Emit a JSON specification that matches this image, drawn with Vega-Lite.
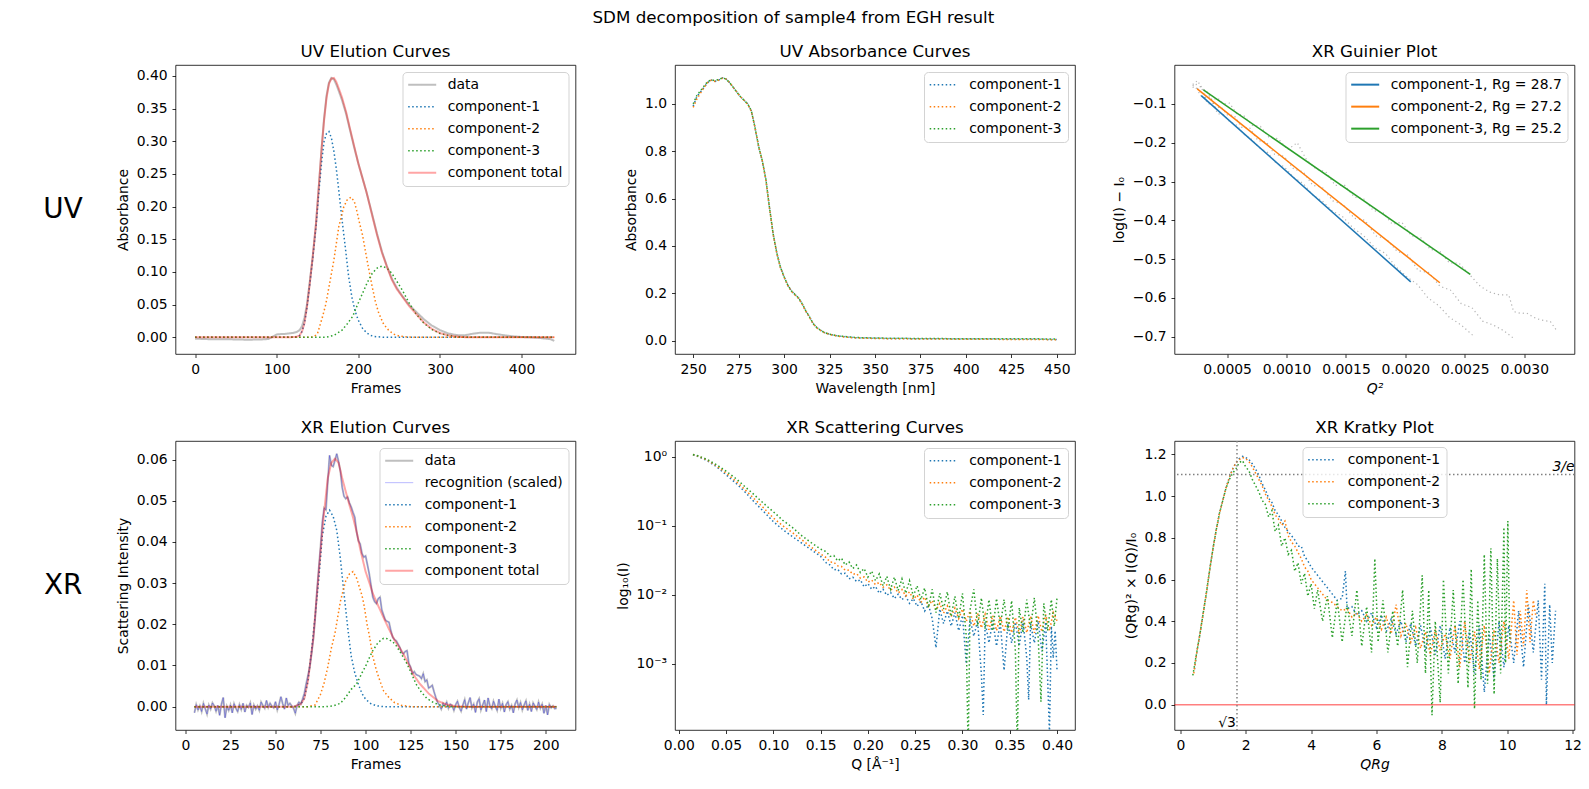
{
"$schema": "https://vega.github.io/schema/vega-lite/v6.json",
"background": "white",
"padding": {"left": 5, "top": 10, "right": 5, "bottom": 5},
"title": {"text": "SDM decomposition of sample4 from EGH result", "anchor": "middle", "fontSize": 16.7, "fontWeight": "normal", "offset": 17},
"bounds": "flush",
"columns": 4,
"spacing": {"row": 87, "column": 99.5},
"resolve": {"scale": {"color": "independent", "strokeDash": "independent", "opacity": "independent", "strokeWidth": "independent", "x": "independent", "y": "independent"}, "legend": {"color": "independent", "strokeDash": "independent", "opacity": "independent", "strokeWidth": "independent"}},
"config": {
  "font": "DejaVu Sans",
  "view": {"stroke": "black", "strokeWidth": 0.8},
  "axis": {"grid": false, "domain": false, "tickColor": "black", "tickSize": 3.5, "tickWidth": 0.8, "labelFontSize": 13.9, "labelColor": "black", "labelPadding": 4.9, "titleFontSize": 13.9, "titleFontWeight": "normal", "titleColor": "black", "titlePadding": 5.6, "labelFlush": false, "labelOverlap": false, "labelBound": false},
  "title": {"fontSize": 16.7, "fontWeight": "normal", "color": "black", "anchor": "middle"},
  "legend": {"padding": 5.7, "rowPadding": 7, "fillColor": "rgba(255,255,255,0.8)", "strokeColor": "#d3d3d3", "cornerRadius": 4, "labelFontSize": 13.9, "labelColor": "black", "labelLimit": 400, "offset": 7, "symbolOffset": 7.05, "labelOffset": 18.5}
},
"datasets": {
"uvel": [
{"s":"data","x":0,"y":-0.002},{"s":"data","x":10,"y":-0.0025},{"s":"data","x":20,"y":-0.003},{"s":"data","x":30,"y":-0.0028},{"s":"data","x":40,"y":-0.003},{"s":"data","x":50,"y":-0.0032},{"s":"data","x":60,"y":-0.0035},{"s":"data","x":70,"y":-0.0035},{"s":"data","x":80,"y":-0.0033},{"s":"data","x":90,"y":-0.0025},{"s":"data","x":95,"y":0.001},{"s":"data","x":100,"y":0.0045},{"s":"data","x":105,"y":0.005},{"s":"data","x":110,"y":0.0052},{"s":"data","x":115,"y":0.006},{"s":"data","x":120,"y":0.0068},{"s":"data","x":125,"y":0.0085},{"s":"data","x":128,"y":0.011},{"s":"data","x":131,"y":0.017},{"s":"data","x":134,"y":0.03},{"s":"data","x":137,"y":0.05},{"s":"data","x":140,"y":0.08},{"s":"data","x":144,"y":0.122},{"s":"data","x":148,"y":0.172},{"s":"data","x":152,"y":0.238},{"s":"data","x":155,"y":0.29},{"s":"data","x":158,"y":0.335},{"s":"data","x":161,"y":0.37},{"s":"data","x":164,"y":0.39},{"s":"data","x":167,"y":0.397},{"s":"data","x":170,"y":0.395},{"s":"data","x":173,"y":0.387},{"s":"data","x":176,"y":0.377},{"s":"data","x":180,"y":0.363},{"s":"data","x":185,"y":0.342},{"s":"data","x":190,"y":0.316},{"s":"data","x":195,"y":0.29},{"s":"data","x":200,"y":0.266},{"s":"data","x":205,"y":0.244},{"s":"data","x":210,"y":0.222},{"s":"data","x":217,"y":0.188},{"s":"data","x":223,"y":0.158},{"s":"data","x":229,"y":0.131},{"s":"data","x":235,"y":0.109},{"s":"data","x":241,"y":0.09},{"s":"data","x":247,"y":0.076},{"s":"data","x":254,"y":0.063},{"s":"data","x":262,"y":0.05},{"s":"data","x":270,"y":0.04},{"s":"data","x":280,"y":0.028},{"s":"data","x":290,"y":0.018},{"s":"data","x":300,"y":0.011},{"s":"data","x":310,"y":0.006},{"s":"data","x":320,"y":0.0035},{"s":"data","x":330,"y":0.003},{"s":"data","x":340,"y":0.0055},{"s":"data","x":350,"y":0.0072},{"s":"data","x":360,"y":0.007},{"s":"data","x":370,"y":0.0048},{"s":"data","x":380,"y":0.003},{"s":"data","x":390,"y":0.0015},{"s":"data","x":400,"y":0.0005},{"s":"data","x":410,"y":0},{"s":"data","x":420,"y":-0.0008},{"s":"data","x":430,"y":-0.002},{"s":"data","x":436,"y":-0.003},{"s":"data","x":440,"y":-0.0055},
{"s":"component-1","x":0,"y":0},{"s":"component-1","x":110,"y":0},{"s":"component-1","x":120,"y":0.0004},{"s":"component-1","x":125,"y":0.001},{"s":"component-1","x":128,"y":0.003},{"s":"component-1","x":131,"y":0.009},{"s":"component-1","x":134,"y":0.022},{"s":"component-1","x":137,"y":0.045},{"s":"component-1","x":140,"y":0.076},{"s":"component-1","x":144,"y":0.12},{"s":"component-1","x":148,"y":0.168},{"s":"component-1","x":152,"y":0.228},{"s":"component-1","x":155,"y":0.268},{"s":"component-1","x":158,"y":0.3},{"s":"component-1","x":161,"y":0.312},{"s":"component-1","x":164,"y":0.315},{"s":"component-1","x":167,"y":0.305},{"s":"component-1","x":170,"y":0.285},{"s":"component-1","x":173,"y":0.258},{"s":"component-1","x":176,"y":0.225},{"s":"component-1","x":180,"y":0.18},{"s":"component-1","x":184,"y":0.138},{"s":"component-1","x":188,"y":0.094},{"s":"component-1","x":192,"y":0.062},{"s":"component-1","x":196,"y":0.04},{"s":"component-1","x":200,"y":0.026},{"s":"component-1","x":205,"y":0.014},{"s":"component-1","x":210,"y":0.007},{"s":"component-1","x":215,"y":0.003},{"s":"component-1","x":220,"y":0.0012},{"s":"component-1","x":230,"y":0.0002},{"s":"component-1","x":240,"y":0},{"s":"component-1","x":440,"y":0},
{"s":"component-2","x":0,"y":0},{"s":"component-2","x":140,"y":0},{"s":"component-2","x":146,"y":0.001},{"s":"component-2","x":150,"y":0.006},{"s":"component-2","x":156,"y":0.031},{"s":"component-2","x":160,"y":0.05},{"s":"component-2","x":164,"y":0.077},{"s":"component-2","x":170,"y":0.118},{"s":"component-2","x":176,"y":0.169},{"s":"component-2","x":182,"y":0.199},{"s":"component-2","x":186,"y":0.21},{"s":"component-2","x":191,"y":0.2146},{"s":"component-2","x":195,"y":0.208},{"s":"component-2","x":198,"y":0.194},{"s":"component-2","x":202,"y":0.172},{"s":"component-2","x":205,"y":0.157},{"s":"component-2","x":211,"y":0.116},{"s":"component-2","x":217,"y":0.077},{"s":"component-2","x":221,"y":0.054},{"s":"component-2","x":225,"y":0.037},{"s":"component-2","x":231,"y":0.02},{"s":"component-2","x":237,"y":0.011},{"s":"component-2","x":243,"y":0.005},{"s":"component-2","x":250,"y":0.002},{"s":"component-2","x":260,"y":0.0005},{"s":"component-2","x":270,"y":0},{"s":"component-2","x":440,"y":0},
{"s":"component-3","x":0,"y":0},{"s":"component-3","x":160,"y":0},{"s":"component-3","x":170,"y":0.003},{"s":"component-3","x":180,"y":0.011},{"s":"component-3","x":186,"y":0.02},{"s":"component-3","x":193,"y":0.032},{"s":"component-3","x":199,"y":0.05},{"s":"component-3","x":205,"y":0.067},{"s":"component-3","x":211,"y":0.084},{"s":"component-3","x":217,"y":0.098},{"s":"component-3","x":223,"y":0.106},{"s":"component-3","x":229,"y":0.109},{"s":"component-3","x":235,"y":0.106},{"s":"component-3","x":241,"y":0.098},{"s":"component-3","x":247,"y":0.086},{"s":"component-3","x":254,"y":0.072},{"s":"component-3","x":262,"y":0.053},{"s":"component-3","x":270,"y":0.037},{"s":"component-3","x":280,"y":0.022},{"s":"component-3","x":290,"y":0.012},{"s":"component-3","x":300,"y":0.006},{"s":"component-3","x":310,"y":0.003},{"s":"component-3","x":320,"y":0.001},{"s":"component-3","x":330,"y":0.0003},{"s":"component-3","x":340,"y":0},{"s":"component-3","x":440,"y":0},
{"s":"component total","x":0,"y":0},{"s":"component total","x":110,"y":0},{"s":"component total","x":120,"y":0.0004},{"s":"component total","x":125,"y":0.001},{"s":"component total","x":128,"y":0.003},{"s":"component total","x":131,"y":0.009},{"s":"component total","x":134,"y":0.022},{"s":"component total","x":137,"y":0.046},{"s":"component total","x":140,"y":0.077},{"s":"component total","x":144,"y":0.122},{"s":"component total","x":148,"y":0.172},{"s":"component total","x":152,"y":0.238},{"s":"component total","x":155,"y":0.288},{"s":"component total","x":158,"y":0.332},{"s":"component total","x":161,"y":0.366},{"s":"component total","x":164,"y":0.388},{"s":"component total","x":167,"y":0.396},{"s":"component total","x":170,"y":0.397},{"s":"component total","x":173,"y":0.391},{"s":"component total","x":176,"y":0.381},{"s":"component total","x":180,"y":0.367},{"s":"component total","x":185,"y":0.345},{"s":"component total","x":190,"y":0.318},{"s":"component total","x":195,"y":0.292},{"s":"component total","x":200,"y":0.266},{"s":"component total","x":205,"y":0.244},{"s":"component total","x":210,"y":0.222},{"s":"component total","x":217,"y":0.186},{"s":"component total","x":223,"y":0.156},{"s":"component total","x":229,"y":0.129},{"s":"component total","x":235,"y":0.108},{"s":"component total","x":241,"y":0.088},{"s":"component total","x":247,"y":0.074},{"s":"component total","x":254,"y":0.062},{"s":"component total","x":262,"y":0.048},{"s":"component total","x":270,"y":0.037},{"s":"component total","x":280,"y":0.023},{"s":"component total","x":290,"y":0.013},{"s":"component total","x":300,"y":0.0065},{"s":"component total","x":310,"y":0.003},{"s":"component total","x":320,"y":0.0012},{"s":"component total","x":330,"y":0.0003},{"s":"component total","x":340,"y":0},{"s":"component total","x":440,"y":0}
],
"uvabs": [
{"s":"component-1","x":250,"y":0.99},{"s":"component-1","x":252,"y":1.03},{"s":"component-1","x":254,"y":1.05},{"s":"component-1","x":256,"y":1.07},{"s":"component-1","x":258,"y":1.09},{"s":"component-1","x":260,"y":1.1},{"s":"component-1","x":262,"y":1.095},{"s":"component-1","x":264,"y":1.1},{"s":"component-1","x":266,"y":1.11},{"s":"component-1","x":268,"y":1.105},{"s":"component-1","x":270,"y":1.09},{"s":"component-1","x":272,"y":1.07},{"s":"component-1","x":274,"y":1.05},{"s":"component-1","x":276,"y":1.03},{"s":"component-1","x":278,"y":1.015},{"s":"component-1","x":280,"y":1.0},{"s":"component-1","x":282,"y":0.97},{"s":"component-1","x":284,"y":0.9},{"s":"component-1","x":286,"y":0.82},{"s":"component-1","x":288,"y":0.76},{"s":"component-1","x":290,"y":0.68},{"s":"component-1","x":292,"y":0.56},{"s":"component-1","x":294,"y":0.45},{"s":"component-1","x":296,"y":0.37},{"s":"component-1","x":298,"y":0.31},{"s":"component-1","x":300,"y":0.27},{"s":"component-1","x":302,"y":0.235},{"s":"component-1","x":304,"y":0.21},{"s":"component-1","x":306,"y":0.195},{"s":"component-1","x":308,"y":0.18},{"s":"component-1","x":310,"y":0.155},{"s":"component-1","x":312,"y":0.125},{"s":"component-1","x":314,"y":0.1},{"s":"component-1","x":316,"y":0.072},{"s":"component-1","x":318,"y":0.055},{"s":"component-1","x":320,"y":0.044},{"s":"component-1","x":322,"y":0.035},{"s":"component-1","x":325,"y":0.027},{"s":"component-1","x":330,"y":0.019},{"s":"component-1","x":335,"y":0.015},{"s":"component-1","x":340,"y":0.012},{"s":"component-1","x":350,"y":0.01},{"s":"component-1","x":360,"y":0.009},{"s":"component-1","x":375,"y":0.008},{"s":"component-1","x":400,"y":0.007},{"s":"component-1","x":425,"y":0.006},{"s":"component-1","x":450,"y":0.005},
{"s":"component-2","x":250,"y":0.985},{"s":"component-2","x":252,"y":1.02},{"s":"component-2","x":254,"y":1.045},{"s":"component-2","x":256,"y":1.07},{"s":"component-2","x":258,"y":1.09},{"s":"component-2","x":260,"y":1.1},{"s":"component-2","x":262,"y":1.095},{"s":"component-2","x":264,"y":1.1},{"s":"component-2","x":266,"y":1.108},{"s":"component-2","x":268,"y":1.105},{"s":"component-2","x":270,"y":1.09},{"s":"component-2","x":272,"y":1.07},{"s":"component-2","x":274,"y":1.05},{"s":"component-2","x":276,"y":1.03},{"s":"component-2","x":278,"y":1.015},{"s":"component-2","x":280,"y":0.998},{"s":"component-2","x":282,"y":0.968},{"s":"component-2","x":284,"y":0.9},{"s":"component-2","x":286,"y":0.82},{"s":"component-2","x":288,"y":0.76},{"s":"component-2","x":290,"y":0.678},{"s":"component-2","x":292,"y":0.558},{"s":"component-2","x":294,"y":0.448},{"s":"component-2","x":296,"y":0.368},{"s":"component-2","x":298,"y":0.308},{"s":"component-2","x":300,"y":0.268},{"s":"component-2","x":302,"y":0.233},{"s":"component-2","x":304,"y":0.208},{"s":"component-2","x":306,"y":0.193},{"s":"component-2","x":308,"y":0.178},{"s":"component-2","x":310,"y":0.153},{"s":"component-2","x":312,"y":0.123},{"s":"component-2","x":314,"y":0.098},{"s":"component-2","x":316,"y":0.071},{"s":"component-2","x":318,"y":0.054},{"s":"component-2","x":320,"y":0.043},{"s":"component-2","x":322,"y":0.034},{"s":"component-2","x":325,"y":0.026},{"s":"component-2","x":330,"y":0.018},{"s":"component-2","x":335,"y":0.014},{"s":"component-2","x":340,"y":0.011},{"s":"component-2","x":350,"y":0.009},{"s":"component-2","x":360,"y":0.008},{"s":"component-2","x":375,"y":0.007},{"s":"component-2","x":400,"y":0.006},{"s":"component-2","x":425,"y":0.005},{"s":"component-2","x":450,"y":0.004},
{"s":"component-3","x":250,"y":1.0},{"s":"component-3","x":252,"y":1.035},{"s":"component-3","x":254,"y":1.055},{"s":"component-3","x":256,"y":1.075},{"s":"component-3","x":258,"y":1.095},{"s":"component-3","x":260,"y":1.1},{"s":"component-3","x":262,"y":1.1},{"s":"component-3","x":264,"y":1.102},{"s":"component-3","x":266,"y":1.11},{"s":"component-3","x":268,"y":1.105},{"s":"component-3","x":270,"y":1.09},{"s":"component-3","x":272,"y":1.07},{"s":"component-3","x":274,"y":1.05},{"s":"component-3","x":276,"y":1.03},{"s":"component-3","x":278,"y":1.015},{"s":"component-3","x":280,"y":1.0},{"s":"component-3","x":282,"y":0.97},{"s":"component-3","x":284,"y":0.9},{"s":"component-3","x":286,"y":0.82},{"s":"component-3","x":288,"y":0.76},{"s":"component-3","x":290,"y":0.68},{"s":"component-3","x":292,"y":0.56},{"s":"component-3","x":294,"y":0.45},{"s":"component-3","x":296,"y":0.37},{"s":"component-3","x":298,"y":0.31},{"s":"component-3","x":300,"y":0.27},{"s":"component-3","x":302,"y":0.235},{"s":"component-3","x":304,"y":0.21},{"s":"component-3","x":306,"y":0.195},{"s":"component-3","x":308,"y":0.18},{"s":"component-3","x":310,"y":0.155},{"s":"component-3","x":312,"y":0.125},{"s":"component-3","x":314,"y":0.1},{"s":"component-3","x":316,"y":0.072},{"s":"component-3","x":318,"y":0.055},{"s":"component-3","x":320,"y":0.044},{"s":"component-3","x":322,"y":0.035},{"s":"component-3","x":325,"y":0.027},{"s":"component-3","x":330,"y":0.02},{"s":"component-3","x":335,"y":0.016},{"s":"component-3","x":340,"y":0.013},{"s":"component-3","x":350,"y":0.011},{"s":"component-3","x":360,"y":0.01},{"s":"component-3","x":375,"y":0.009},{"s":"component-3","x":400,"y":0.008},{"s":"component-3","x":425,"y":0.008},{"s":"component-3","x":450,"y":0.007}
],
"guinpts": [
{"s":"a","x":0.00021,"y":-0.058},{"s":"a","x":0.00024,"y":-0.05},{"s":"a","x":0.00027,"y":-0.078},{"s":"a","x":0.0003,"y":-0.08},{"s":"a","x":0.00034,"y":-0.1},{"s":"a","x":0.00038,"y":-0.098},{"s":"a","x":0.00042,"y":-0.125},{"s":"a","x":0.00047,"y":-0.128},{"s":"a","x":0.00052,"y":-0.145},{"s":"a","x":0.00058,"y":-0.155},{"s":"a","x":0.00064,"y":-0.178},{"s":"a","x":0.0007,"y":-0.19},{"s":"a","x":0.00077,"y":-0.213},{"s":"a","x":0.00084,"y":-0.225},{"s":"a","x":0.00091,"y":-0.252},{"s":"a","x":0.00098,"y":-0.262},{"s":"a","x":0.00106,"y":-0.29},{"s":"a","x":0.00114,"y":-0.305},{"s":"a","x":0.00122,"y":-0.335},{"s":"a","x":0.0013,"y":-0.35},{"s":"a","x":0.00138,"y":-0.375},{"s":"a","x":0.00147,"y":-0.39},{"s":"a","x":0.00156,"y":-0.42},{"s":"a","x":0.00165,"y":-0.44},{"s":"a","x":0.00174,"y":-0.47},{"s":"a","x":0.00183,"y":-0.485},{"s":"a","x":0.00192,"y":-0.52},{"s":"a","x":0.00201,"y":-0.545},{"s":"a","x":0.0021,"y":-0.565},{"s":"a","x":0.00219,"y":-0.6},{"s":"a","x":0.00228,"y":-0.62},{"s":"a","x":0.00237,"y":-0.65},{"s":"a","x":0.00247,"y":-0.67},{"s":"a","x":0.00258,"y":-0.7},
{"s":"b","x":0.00021,"y":-0.052},{"s":"b","x":0.00024,"y":-0.06},{"s":"b","x":0.00028,"y":-0.055},{"s":"b","x":0.00032,"y":-0.085},{"s":"b","x":0.00036,"y":-0.082},{"s":"b","x":0.0004,"y":-0.11},{"s":"b","x":0.00045,"y":-0.108},{"s":"b","x":0.0005,"y":-0.128},{"s":"b","x":0.00056,"y":-0.13},{"s":"b","x":0.00062,"y":-0.16},{"s":"b","x":0.00069,"y":-0.162},{"s":"b","x":0.00076,"y":-0.195},{"s":"b","x":0.00083,"y":-0.198},{"s":"b","x":0.0009,"y":-0.23},{"s":"b","x":0.00098,"y":-0.235},{"s":"b","x":0.00106,"y":-0.268},{"s":"b","x":0.00114,"y":-0.275},{"s":"b","x":0.00122,"y":-0.31},{"s":"b","x":0.0013,"y":-0.315},{"s":"b","x":0.00139,"y":-0.35},{"s":"b","x":0.00148,"y":-0.36},{"s":"b","x":0.00157,"y":-0.395},{"s":"b","x":0.00166,"y":-0.4},{"s":"b","x":0.00175,"y":-0.44},{"s":"b","x":0.00184,"y":-0.448},{"s":"b","x":0.00193,"y":-0.48},{"s":"b","x":0.00202,"y":-0.49},{"s":"b","x":0.00211,"y":-0.53},{"s":"b","x":0.0022,"y":-0.535},{"s":"b","x":0.00229,"y":-0.57},{"s":"b","x":0.00238,"y":-0.58},{"s":"b","x":0.00247,"y":-0.615},{"s":"b","x":0.00256,"y":-0.625},{"s":"b","x":0.00265,"y":-0.66},{"s":"b","x":0.00274,"y":-0.67},{"s":"b","x":0.00283,"y":-0.685},{"s":"b","x":0.00291,"y":-0.704},
{"s":"c","x":0.00021,"y":-0.05},{"s":"c","x":0.00025,"y":-0.04},{"s":"c","x":0.00029,"y":-0.06},{"s":"c","x":0.00033,"y":-0.068},{"s":"c","x":0.00037,"y":-0.09},{"s":"c","x":0.00042,"y":-0.085},{"s":"c","x":0.00047,"y":-0.1},{"s":"c","x":0.00052,"y":-0.098},{"s":"c","x":0.00058,"y":-0.125},{"s":"c","x":0.00064,"y":-0.13},{"s":"c","x":0.00071,"y":-0.155},{"s":"c","x":0.00078,"y":-0.158},{"s":"c","x":0.00085,"y":-0.185},{"s":"c","x":0.00093,"y":-0.19},{"s":"c","x":0.00101,"y":-0.218},{"s":"c","x":0.00109,"y":-0.2},{"s":"c","x":0.00117,"y":-0.245},{"s":"c","x":0.00125,"y":-0.268},{"s":"c","x":0.00133,"y":-0.275},{"s":"c","x":0.00141,"y":-0.31},{"s":"c","x":0.00149,"y":-0.31},{"s":"c","x":0.00157,"y":-0.34},{"s":"c","x":0.00165,"y":-0.345},{"s":"c","x":0.00173,"y":-0.375},{"s":"c","x":0.00181,"y":-0.38},{"s":"c","x":0.00189,"y":-0.41},{"s":"c","x":0.00197,"y":-0.405},{"s":"c","x":0.00205,"y":-0.44},{"s":"c","x":0.00213,"y":-0.445},{"s":"c","x":0.00221,"y":-0.475},{"s":"c","x":0.00229,"y":-0.48},{"s":"c","x":0.00237,"y":-0.51},{"s":"c","x":0.00245,"y":-0.51},{"s":"c","x":0.00254,"y":-0.54},{"s":"c","x":0.00263,"y":-0.57},{"s":"c","x":0.00271,"y":-0.585},{"s":"c","x":0.00279,"y":-0.592},{"s":"c","x":0.00287,"y":-0.592},{"s":"c","x":0.00291,"y":-0.635},{"s":"c","x":0.00297,"y":-0.64},{"s":"c","x":0.00302,"y":-0.639},{"s":"c","x":0.00308,"y":-0.65},{"s":"c","x":0.00314,"y":-0.657},{"s":"c","x":0.00322,"y":-0.661},{"s":"c","x":0.00327,"y":-0.683}
],
"guinlines": [
{"s":"component-1, Rg = 28.7","x":0.000282,"y":-0.0786},{"s":"component-1, Rg = 28.7","x":0.002045,"y":-0.5586},
{"s":"component-2, Rg = 27.2","x":0.000248,"y":-0.0614},{"s":"component-2, Rg = 27.2","x":0.00229,"y":-0.561},
{"s":"component-3, Rg = 25.2","x":0.0003,"y":-0.064},{"s":"component-3, Rg = 25.2","x":0.002546,"y":-0.5395}
],
"xrnoisy": [
{"x":5,"y":-0.0015,"s":["data","recognition (scaled)"]},{"x":6,"y":0.0005,"s":["data","recognition (scaled)"]},{"x":7,"y":-0.0008,"s":["data","recognition (scaled)"]},{"x":8,"y":0.0002,"s":["data","recognition (scaled)"]},{"x":9,"y":-0.0012,"s":["data","recognition (scaled)"]},{"x":10,"y":0.0008,"s":["data","recognition (scaled)"]},{"x":11,"y":-0.0005,"s":["data","recognition (scaled)"]},{"x":12,"y":-0.0018,"s":["data","recognition (scaled)"]},{"x":13,"y":0.0004,"s":["data","recognition (scaled)"]},{"x":14,"y":-0.0006,"s":["data","recognition (scaled)"]},{"x":15,"y":0.0009,"s":["data","recognition (scaled)"]},{"x":16,"y":0.0002,"s":["data","recognition (scaled)"]},{"x":17,"y":-0.0011,"s":["data","recognition (scaled)"]},{"x":18,"y":0.0003,"s":["data","recognition (scaled)"]},{"x":19,"y":-0.0021,"s":["data","recognition (scaled)"]},{"x":20,"y":0.0006,"s":["data","recognition (scaled)"]},{"x":21,"y":0.0022,"s":["data","recognition (scaled)"]},{"x":22,"y":-0.0027,"s":["data","recognition (scaled)"]},{"x":23,"y":0.0001,"s":["data","recognition (scaled)"]},{"x":24,"y":-0.0009,"s":["data","recognition (scaled)"]},{"x":25,"y":0.0004,"s":["data","recognition (scaled)"]},{"x":26,"y":-0.0015,"s":["data","recognition (scaled)"]},{"x":27,"y":0.0007,"s":["data","recognition (scaled)"]},{"x":28,"y":-0.0004,"s":["data","recognition (scaled)"]},{"x":29,"y":-0.0012,"s":["data","recognition (scaled)"]},{"x":30,"y":0.0005,"s":["data","recognition (scaled)"]},{"x":31,"y":-0.0007,"s":["data","recognition (scaled)"]},{"x":32,"y":0.0008,"s":["data","recognition (scaled)"]},{"x":33,"y":-0.0013,"s":["data","recognition (scaled)"]},{"x":34,"y":0.0003,"s":["data","recognition (scaled)"]},{"x":35,"y":-0.0002,"s":["data","recognition (scaled)"]},{"x":36,"y":0.0009,"s":["data","recognition (scaled)"]},{"x":37,"y":-0.0019,"s":["data","recognition (scaled)"]},{"x":38,"y":0.0004,"s":["data","recognition (scaled)"]},{"x":39,"y":-0.0006,"s":["data","recognition (scaled)"]},{"x":40,"y":0.0002,"s":["data","recognition (scaled)"]},{"x":41,"y":-0.0009,"s":["data","recognition (scaled)"]},{"x":42,"y":0.0011,"s":["data","recognition (scaled)"]},{"x":43,"y":0.0003,"s":["data","recognition (scaled)"]},{"x":44,"y":-0.0004,"s":["data","recognition (scaled)"]},{"x":45,"y":0.0015,"s":["data","recognition (scaled)"]},{"x":46,"y":-0.0002,"s":["data","recognition (scaled)"]},{"x":47,"y":0.0008,"s":["data","recognition (scaled)"]},{"x":48,"y":0.0001,"s":["data","recognition (scaled)"]},{"x":49,"y":-0.0003,"s":["data","recognition (scaled)"]},{"x":50,"y":0.0012,"s":["data","recognition (scaled)"]},{"x":51,"y":-0.0008,"s":["data","recognition (scaled)"]},{"x":52,"y":0.0006,"s":["data","recognition (scaled)"]},{"x":53,"y":0.0024,"s":["data","recognition (scaled)"]},{"x":54,"y":0.0007,"s":["data","recognition (scaled)"]},{"x":55,"y":-0.0006,"s":["data","recognition (scaled)"]},{"x":56,"y":0.0021,"s":["data","recognition (scaled)"]},{"x":57,"y":0.0003,"s":["data","recognition (scaled)"]},{"x":58,"y":0.0008,"s":["data","recognition (scaled)"]},{"x":59,"y":0.0002,"s":["data","recognition (scaled)"]},{"x":60,"y":-0.0004,"s":["data","recognition (scaled)"]},{"x":61,"y":-0.0016,"s":["data","recognition (scaled)"]},{"x":62,"y":0.0003,"s":["data","recognition (scaled)"]},{"x":63,"y":0.0011,"s":["data","recognition (scaled)"]},{"x":64,"y":0.0006,"s":["data","recognition (scaled)"]},
{"x":65,"y":0.0018,"s":["data","recognition (scaled)"]},{"x":66,"y":0.0032,"s":["data","recognition (scaled)"]},{"x":67,"y":0.0055,"s":["data","recognition (scaled)"]},{"x":68,"y":0.0075,"s":["data","recognition (scaled)"]},{"x":69,"y":0.0096,"s":["data","recognition (scaled)"]},{"x":70,"y":0.0128,"s":["data","recognition (scaled)"]},{"x":71,"y":0.0165,"s":["data","recognition (scaled)"]},{"x":72,"y":0.0215,"s":["data","recognition (scaled)"]},{"x":73,"y":0.028,"s":["data","recognition (scaled)"]},{"x":74,"y":0.0335,"s":["data","recognition (scaled)"]},{"x":75,"y":0.0388,"s":["data","recognition (scaled)"]},{"x":76,"y":0.0448,"s":["data","recognition (scaled)"]},{"x":77,"y":0.0482,"s":["data","recognition (scaled)"]},{"x":78,"y":0.0478,"s":["data","recognition (scaled)"]},{"x":79,"y":0.0545,"s":["data","recognition (scaled)"]},{"x":80,"y":0.061,"s":["data","recognition (scaled)"]},{"x":81,"y":0.0586,"s":["data","recognition (scaled)"]},{"x":82,"y":0.0583,"s":["data","recognition (scaled)"]},{"x":83,"y":0.0598,"s":["data","recognition (scaled)"]},{"x":84,"y":0.0614,"s":["data","recognition (scaled)"]},{"x":85,"y":0.0595,"s":["data","recognition (scaled)"]},{"x":86,"y":0.0572,"s":["data","recognition (scaled)"]},{"x":87,"y":0.0533,"s":["data","recognition (scaled)"]},{"x":88,"y":0.0511,"s":["data","recognition (scaled)"]},{"x":89,"y":0.0505,"s":["data","recognition (scaled)"]},{"x":90,"y":0.0509,"s":["data","recognition (scaled)"]},{"x":91,"y":0.0495,"s":["data","recognition (scaled)"]},{"x":92,"y":0.0485,"s":["data","recognition (scaled)"]},{"x":93,"y":0.0472,"s":["data","recognition (scaled)"]},{"x":94,"y":0.046,"s":["data","recognition (scaled)"]},{"x":95,"y":0.0425,"s":["data","recognition (scaled)"]},{"x":96,"y":0.0403,"s":["data","recognition (scaled)"]},{"x":97,"y":0.0395,"s":["data","recognition (scaled)"]},{"x":98,"y":0.0372,"s":["data","recognition (scaled)"]},{"x":99,"y":0.0363,"s":["data","recognition (scaled)"]},{"x":100,"y":0.0366,"s":["data","recognition (scaled)"]},{"x":101,"y":0.0345,"s":["data","recognition (scaled)"]},{"x":102,"y":0.0323,"s":["data","recognition (scaled)"]},{"x":103,"y":0.0295,"s":["data","recognition (scaled)"]},{"x":104,"y":0.0266,"s":["data","recognition (scaled)"]},{"x":105,"y":0.0255,"s":["data","recognition (scaled)"]},{"x":106,"y":0.025,"s":["data","recognition (scaled)"]},{"x":107,"y":0.0262,"s":["data","recognition (scaled)"]},{"x":108,"y":0.0266,"s":["data","recognition (scaled)"]},{"x":109,"y":0.0235,"s":["data","recognition (scaled)"]},{"x":110,"y":0.0222,"s":["data","recognition (scaled)"]},{"x":111,"y":0.021,"s":["data","recognition (scaled)"]},{"x":112,"y":0.0207,"s":["data","recognition (scaled)"]},{"x":113,"y":0.0205,"s":["data","recognition (scaled)"]},{"x":114,"y":0.0185,"s":["data","recognition (scaled)"]},{"x":115,"y":0.0169,"s":["data","recognition (scaled)"]},{"x":116,"y":0.0163,"s":["data","recognition (scaled)"]},{"x":117,"y":0.016,"s":["data","recognition (scaled)"]},{"x":118,"y":0.0152,"s":["data","recognition (scaled)"]},{"x":119,"y":0.0144,"s":["data","recognition (scaled)"]},{"x":120,"y":0.0132,"s":["data","recognition (scaled)"]},{"x":121,"y":0.0128,"s":["data","recognition (scaled)"]},{"x":122,"y":0.0134,"s":["data","recognition (scaled)"]},{"x":123,"y":0.0136,"s":["data","recognition (scaled)"]},{"x":124,"y":0.0105,"s":["data","recognition (scaled)"]},{"x":125,"y":0.0096,"s":["data","recognition (scaled)"]},{"x":126,"y":0.008,"s":["data","recognition (scaled)"]},{"x":127,"y":0.0085,"s":["data","recognition (scaled)"]},{"x":128,"y":0.0078,"s":["data","recognition (scaled)"]},{"x":129,"y":0.0076,"s":["data","recognition (scaled)"]},
{"x":130,"y":0.0074,"s":["data","recognition (scaled)"]},{"x":131,"y":0.0068,"s":["data","recognition (scaled)"]},{"x":132,"y":0.008,"s":["data","recognition (scaled)"]},{"x":133,"y":0.0061,"s":["data","recognition (scaled)"]},{"x":134,"y":0.0065,"s":["data","recognition (scaled)"]},{"x":135,"y":0.0045,"s":["data","recognition (scaled)"]},{"x":136,"y":0.0048,"s":["data","recognition (scaled)"]},{"x":137,"y":0.0052,"s":["data","recognition (scaled)"]},{"x":138,"y":0.0036,"s":["data","recognition (scaled)"]},{"x":139,"y":0.0022,"s":["data","recognition (scaled)"]},{"x":140,"y":0.001,"s":["data","recognition (scaled)"]},{"x":141,"y":0.0003,"s":["data","recognition (scaled)"]},{"x":142,"y":-0.0006,"s":["data","recognition (scaled)"]},{"x":143,"y":0.0008,"s":["data","recognition (scaled)"]},{"x":144,"y":0.0002,"s":["data","recognition (scaled)"]},{"x":145,"y":0.0011,"s":["data","recognition (scaled)"]},{"x":146,"y":-0.0004,"s":["data","recognition (scaled)"]},{"x":147,"y":0.0006,"s":["data","recognition (scaled)"]},{"x":148,"y":0.0003,"s":["data","recognition (scaled)"]},{"x":149,"y":-0.0009,"s":["data","recognition (scaled)"]},{"x":150,"y":0.0005,"s":["data","recognition (scaled)"]},{"x":151,"y":0.0013,"s":["data","recognition (scaled)"]},{"x":152,"y":-0.0002,"s":["data","recognition (scaled)"]},{"x":153,"y":-0.0011,"s":["data","recognition (scaled)"]},{"x":154,"y":0.0004,"s":["data","recognition (scaled)"]},{"x":155,"y":0.0017,"s":["data","recognition (scaled)"]},{"x":156,"y":-0.0006,"s":["data","recognition (scaled)"]},{"x":157,"y":0.0009,"s":["data","recognition (scaled)"]},{"x":158,"y":0.0022,"s":["data","recognition (scaled)"]},{"x":159,"y":-0.0003,"s":["data","recognition (scaled)"]},{"x":160,"y":0.0006,"s":["data","recognition (scaled)"]},{"x":161,"y":-0.0014,"s":["data","recognition (scaled)"]},{"x":162,"y":0.0011,"s":["data","recognition (scaled)"]},{"x":163,"y":0.0019,"s":["data","recognition (scaled)"]},{"x":164,"y":-0.0008,"s":["data","recognition (scaled)"]},{"x":165,"y":0.0004,"s":["data","recognition (scaled)"]},{"x":166,"y":0.0016,"s":["data","recognition (scaled)"]},{"x":167,"y":-0.0012,"s":["data","recognition (scaled)"]},{"x":168,"y":0.0021,"s":["data","recognition (scaled)"]},{"x":169,"y":0.0002,"s":["data","recognition (scaled)"]},{"x":170,"y":-0.0005,"s":["data","recognition (scaled)"]},{"x":171,"y":0.0013,"s":["data","recognition (scaled)"]},{"x":172,"y":0.0001,"s":["data","recognition (scaled)"]},{"x":173,"y":-0.0009,"s":["data","recognition (scaled)"]},{"x":174,"y":0.0018,"s":["data","recognition (scaled)"]},{"x":175,"y":-0.0004,"s":["data","recognition (scaled)"]},{"x":176,"y":0.0008,"s":["data","recognition (scaled)"]},{"x":177,"y":-0.0013,"s":["data","recognition (scaled)"]},{"x":178,"y":0.0005,"s":["data","recognition (scaled)"]},{"x":179,"y":0.0012,"s":["data","recognition (scaled)"]},{"x":180,"y":-0.0006,"s":["data","recognition (scaled)"]},{"x":181,"y":0.0003,"s":["data","recognition (scaled)"]},{"x":182,"y":-0.0015,"s":["data","recognition (scaled)"]},{"x":183,"y":0.0007,"s":["data","recognition (scaled)"]},{"x":184,"y":0.0016,"s":["data","recognition (scaled)"]},{"x":185,"y":-0.0002,"s":["data","recognition (scaled)"]},{"x":186,"y":0.001,"s":["data","recognition (scaled)"]},{"x":187,"y":-0.0008,"s":["data","recognition (scaled)"]},{"x":188,"y":0.0004,"s":["data","recognition (scaled)"]},{"x":189,"y":0.0014,"s":["data","recognition (scaled)"]},{"x":190,"y":-0.0009,"s":["data","recognition (scaled)"]},{"x":191,"y":0.0006,"s":["data","recognition (scaled)"]},{"x":192,"y":-0.0012,"s":["data","recognition (scaled)"]},{"x":193,"y":0.0009,"s":["data","recognition (scaled)"]},{"x":194,"y":0.0001,"s":["data","recognition (scaled)"]},{"x":195,"y":-0.0007,"s":["data","recognition (scaled)"]},{"x":196,"y":0.0011,"s":["data","recognition (scaled)"]},{"x":197,"y":-0.0004,"s":["data","recognition (scaled)"]},{"x":198,"y":0.0006,"s":["data","recognition (scaled)"]},{"x":199,"y":-0.0016,"s":["data","recognition (scaled)"]},{"x":200,"y":0.0003,"s":["data","recognition (scaled)"]},{"x":201,"y":-0.002,"s":["data","recognition (scaled)"]},{"x":202,"y":0.0005,"s":["data","recognition (scaled)"]},{"x":203,"y":-0.0003,"s":["data","recognition (scaled)"]},{"x":204,"y":0.0002,"s":["data","recognition (scaled)"]},{"x":205,"y":-0.0005,"s":["data","recognition (scaled)"]},{"x":206,"y":-0.0004,"s":["data","recognition (scaled)"]}
],
"xrcomp": [
{"s":"component-1","x":5,"y":0},{"s":"component-1","x":60,"y":0},{"s":"component-1","x":64,"y":0.0006},{"s":"component-1","x":66,"y":0.002},{"s":"component-1","x":68,"y":0.0062},{"s":"component-1","x":70,"y":0.0135},{"s":"component-1","x":72,"y":0.022},{"s":"component-1","x":74,"y":0.031},{"s":"component-1","x":76,"y":0.0415},{"s":"component-1","x":78,"y":0.0462},{"s":"component-1","x":80,"y":0.0477},{"s":"component-1","x":82,"y":0.0462},{"s":"component-1","x":84,"y":0.0428},{"s":"component-1","x":86,"y":0.036},{"s":"component-1","x":88,"y":0.0275},{"s":"component-1","x":90,"y":0.0195},{"s":"component-1","x":92,"y":0.0123},{"s":"component-1","x":94,"y":0.0082},{"s":"component-1","x":96,"y":0.0054},{"s":"component-1","x":98,"y":0.0032},{"s":"component-1","x":100,"y":0.0018},{"s":"component-1","x":103,"y":0.0007},{"s":"component-1","x":106,"y":0.0002},{"s":"component-1","x":110,"y":0},{"s":"component-1","x":206,"y":0},
{"s":"component-2","x":5,"y":0},{"s":"component-2","x":68,"y":0},{"s":"component-2","x":72,"y":0.0004},{"s":"component-2","x":75,"y":0.003},{"s":"component-2","x":77,"y":0.0058},{"s":"component-2","x":79,"y":0.0096},{"s":"component-2","x":81,"y":0.0142},{"s":"component-2","x":83,"y":0.0178},{"s":"component-2","x":86,"y":0.0255},{"s":"component-2","x":88,"y":0.029},{"s":"component-2","x":89,"y":0.0306},{"s":"component-2","x":91,"y":0.0322},{"s":"component-2","x":93,"y":0.0328},{"s":"component-2","x":95,"y":0.0312},{"s":"component-2","x":96,"y":0.0298},{"s":"component-2","x":98,"y":0.027},{"s":"component-2","x":99,"y":0.025},{"s":"component-2","x":101,"y":0.0195},{"s":"component-2","x":102,"y":0.0175},{"s":"component-2","x":104,"y":0.0122},{"s":"component-2","x":106,"y":0.0088},{"s":"component-2","x":108,"y":0.0062},{"s":"component-2","x":110,"y":0.0038},{"s":"component-2","x":113,"y":0.0022},{"s":"component-2","x":116,"y":0.001},{"s":"component-2","x":120,"y":0.0003},{"s":"component-2","x":125,"y":0},{"s":"component-2","x":206,"y":0},
{"s":"component-3","x":5,"y":0},{"s":"component-3","x":78,"y":0},{"s":"component-3","x":82,"y":0.0002},{"s":"component-3","x":86,"y":0.0008},{"s":"component-3","x":89,"y":0.0023},{"s":"component-3","x":92,"y":0.0042},{"s":"component-3","x":95,"y":0.0055},{"s":"component-3","x":98,"y":0.0082},{"s":"component-3","x":100,"y":0.0098},{"s":"component-3","x":102,"y":0.0118},{"s":"component-3","x":104,"y":0.0136},{"s":"component-3","x":107,"y":0.0156},{"s":"component-3","x":110,"y":0.0166},{"s":"component-3","x":112,"y":0.0165},{"s":"component-3","x":115,"y":0.0158},{"s":"component-3","x":117,"y":0.0148},{"s":"component-3","x":120,"y":0.0127},{"s":"component-3","x":123,"y":0.0104},{"s":"component-3","x":126,"y":0.0075},{"s":"component-3","x":128,"y":0.0055},{"s":"component-3","x":131,"y":0.0035},{"s":"component-3","x":134,"y":0.002},{"s":"component-3","x":138,"y":0.0009},{"s":"component-3","x":142,"y":0.0003},{"s":"component-3","x":148,"y":0},{"s":"component-3","x":206,"y":0},
{"s":"component total","x":5,"y":0},{"s":"component total","x":60,"y":0},{"s":"component total","x":64,"y":0.0006},{"s":"component total","x":66,"y":0.002},{"s":"component total","x":68,"y":0.0062},{"s":"component total","x":71,"y":0.0168},{"s":"component total","x":74,"y":0.0325},{"s":"component total","x":76.5,"y":0.0452},{"s":"component total","x":79,"y":0.0555},{"s":"component total","x":81,"y":0.0592},{"s":"component total","x":83,"y":0.0602},{"s":"component total","x":85,"y":0.0592},{"s":"component total","x":87,"y":0.0555},{"s":"component total","x":89,"y":0.0522},{"s":"component total","x":91,"y":0.049},{"s":"component total","x":93,"y":0.046},{"s":"component total","x":95,"y":0.0425},{"s":"component total","x":97,"y":0.0383},{"s":"component total","x":100,"y":0.0328},{"s":"component total","x":102,"y":0.0302},{"s":"component total","x":104,"y":0.0275},{"s":"component total","x":107,"y":0.0245},{"s":"component total","x":110,"y":0.0216},{"s":"component total","x":113,"y":0.0188},{"s":"component total","x":116,"y":0.0162},{"s":"component total","x":119,"y":0.0142},{"s":"component total","x":121,"y":0.0128},{"s":"component total","x":124,"y":0.0102},{"s":"component total","x":126.5,"y":0.0078},{"s":"component total","x":130,"y":0.0056},{"s":"component total","x":135,"y":0.0032},{"s":"component total","x":140,"y":0.0014},{"s":"component total","x":145,"y":0.0005},{"s":"component total","x":150,"y":0.0001},{"s":"component total","x":155,"y":0},{"s":"component total","x":206,"y":0}
],
"scat": [
{"s":"component-1","x":0.015,"y":1.07},{"s":"component-1","x":0.02,"y":1.02},{"s":"component-1","x":0.03,"y":0.88},{"s":"component-1","x":0.04,"y":0.72},{"s":"component-1","x":0.05,"y":0.55},{"s":"component-1","x":0.06,"y":0.42},{"s":"component-1","x":0.07,"y":0.31},{"s":"component-1","x":0.08,"y":0.22},{"s":"component-1","x":0.09,"y":0.16},{"s":"component-1","x":0.1,"y":0.115},{"s":"component-1","x":0.11,"y":0.088},{"s":"component-1","x":0.12,"y":0.07},{"s":"component-1","x":0.13,"y":0.056},{"s":"component-1","x":0.14,"y":0.045},{"s":"component-1","x":0.15,"y":0.036},
{"s":"component-1","x":0.156,"y":0.029},{"s":"component-1","x":0.16,"y":0.027},{"s":"component-1","x":0.164,"y":0.023},{"s":"component-1","x":0.168,"y":0.0235},{"s":"component-1","x":0.172,"y":0.02},{"s":"component-1","x":0.176,"y":0.0205},{"s":"component-1","x":0.18,"y":0.017},{"s":"component-1","x":0.184,"y":0.018},{"s":"component-1","x":0.188,"y":0.0155},{"s":"component-1","x":0.192,"y":0.0165},{"s":"component-1","x":0.196,"y":0.013},{"s":"component-1","x":0.2,"y":0.0145},{"s":"component-1","x":0.204,"y":0.012},{"s":"component-1","x":0.208,"y":0.0132},{"s":"component-1","x":0.212,"y":0.0105},{"s":"component-1","x":0.216,"y":0.012},{"s":"component-1","x":0.22,"y":0.0098},{"s":"component-1","x":0.224,"y":0.0108},{"s":"component-1","x":0.228,"y":0.0088},{"s":"component-1","x":0.232,"y":0.0102},{"s":"component-1","x":0.236,"y":0.0085},{"s":"component-1","x":0.24,"y":0.0095},{"s":"component-1","x":0.244,"y":0.0075},{"s":"component-1","x":0.248,"y":0.0088},{"s":"component-1","x":0.252,"y":0.0068},{"s":"component-1","x":0.256,"y":0.008},{"s":"component-1","x":0.26,"y":0.0058},{"s":"component-1","x":0.264,"y":0.0072},{"s":"component-1","x":0.268,"y":0.0045},{"s":"component-1","x":0.272,"y":0.0017},{"s":"component-1","x":0.276,"y":0.0062},{"s":"component-1","x":0.28,"y":0.0038},{"s":"component-1","x":0.284,"y":0.0058},{"s":"component-1","x":0.288,"y":0.0035},{"s":"component-1","x":0.292,"y":0.0055},{"s":"component-1","x":0.296,"y":0.003},{"s":"component-1","x":0.3,"y":0.005},{"s":"component-1","x":0.304,"y":0.001},{"s":"component-1","x":0.308,"y":0.0045},{"s":"component-1","x":0.312,"y":0.0025},{"s":"component-1","x":0.316,"y":0.0042},{"s":"component-1","x":0.32,"y":0.0007},{"s":"component-1","x":0.322,"y":0.00018},{"s":"component-1","x":0.324,"y":0.004},{"s":"component-1","x":0.328,"y":0.002},{"s":"component-1","x":0.332,"y":0.0042},{"s":"component-1","x":0.336,"y":0.0018},{"s":"component-1","x":0.34,"y":0.004},{"s":"component-1","x":0.344,"y":0.0008},{"s":"component-1","x":0.348,"y":0.0038},{"s":"component-1","x":0.352,"y":0.002},{"s":"component-1","x":0.356,"y":0.004},{"s":"component-1","x":0.36,"y":0.0018},{"s":"component-1","x":0.364,"y":0.0042},{"s":"component-1","x":0.368,"y":0.0012},{"s":"component-1","x":0.37,"y":0.0003},{"s":"component-1","x":0.372,"y":0.0038},{"s":"component-1","x":0.376,"y":0.002},{"s":"component-1","x":0.38,"y":0.0042},{"s":"component-1","x":0.384,"y":0.0015},{"s":"component-1","x":0.388,"y":0.004},{"s":"component-1","x":0.392,"y":0.0001},{"s":"component-1","x":0.394,"y":0.0035},{"s":"component-1","x":0.396,"y":0.0012},{"s":"component-1","x":0.398,"y":0.003},{"s":"component-1","x":0.4,"y":0.0008},
{"s":"component-2","x":0.015,"y":1.08},{"s":"component-2","x":0.02,"y":1.03},{"s":"component-2","x":0.03,"y":0.9},{"s":"component-2","x":0.04,"y":0.74},{"s":"component-2","x":0.05,"y":0.58},{"s":"component-2","x":0.06,"y":0.45},{"s":"component-2","x":0.07,"y":0.335},{"s":"component-2","x":0.08,"y":0.245},{"s":"component-2","x":0.09,"y":0.18},{"s":"component-2","x":0.1,"y":0.13},{"s":"component-2","x":0.11,"y":0.1},{"s":"component-2","x":0.12,"y":0.08},{"s":"component-2","x":0.13,"y":0.063},{"s":"component-2","x":0.14,"y":0.049},{"s":"component-2","x":0.15,"y":0.039},
{"s":"component-2","x":0.156,"y":0.0345},{"s":"component-2","x":0.16,"y":0.0298},{"s":"component-2","x":0.164,"y":0.0296},{"s":"component-2","x":0.168,"y":0.0262},{"s":"component-2","x":0.172,"y":0.0258},{"s":"component-2","x":0.176,"y":0.0226},{"s":"component-2","x":0.18,"y":0.0228},{"s":"component-2","x":0.184,"y":0.0198},{"s":"component-2","x":0.188,"y":0.0203},{"s":"component-2","x":0.192,"y":0.0174},{"s":"component-2","x":0.196,"y":0.0181},{"s":"component-2","x":0.2,"y":0.0152},{"s":"component-2","x":0.204,"y":0.0163},{"s":"component-2","x":0.208,"y":0.014},{"s":"component-2","x":0.212,"y":0.0151},{"s":"component-2","x":0.216,"y":0.0128},{"s":"component-2","x":0.22,"y":0.0139},{"s":"component-2","x":0.224,"y":0.0116},{"s":"component-2","x":0.228,"y":0.0129},{"s":"component-2","x":0.232,"y":0.0106},{"s":"component-2","x":0.236,"y":0.0119},{"s":"component-2","x":0.24,"y":0.0096},{"s":"component-2","x":0.244,"y":0.011},{"s":"component-2","x":0.248,"y":0.0086},{"s":"component-2","x":0.252,"y":0.0099},{"s":"component-2","x":0.256,"y":0.0077},{"s":"component-2","x":0.26,"y":0.0092},{"s":"component-2","x":0.264,"y":0.0068},{"s":"component-2","x":0.268,"y":0.0083},{"s":"component-2","x":0.272,"y":0.006},{"s":"component-2","x":0.276,"y":0.0075},{"s":"component-2","x":0.28,"y":0.0054},{"s":"component-2","x":0.284,"y":0.0069},{"s":"component-2","x":0.288,"y":0.0048},{"s":"component-2","x":0.292,"y":0.0064},{"s":"component-2","x":0.296,"y":0.0045},{"s":"component-2","x":0.3,"y":0.0062},{"s":"component-2","x":0.304,"y":0.0041},{"s":"component-2","x":0.308,"y":0.0058},{"s":"component-2","x":0.312,"y":0.0035},{"s":"component-2","x":0.316,"y":0.0054},{"s":"component-2","x":0.32,"y":0.0033},{"s":"component-2","x":0.324,"y":0.0052},{"s":"component-2","x":0.328,"y":0.0031},{"s":"component-2","x":0.332,"y":0.005},{"s":"component-2","x":0.336,"y":0.003},{"s":"component-2","x":0.34,"y":0.0049},{"s":"component-2","x":0.344,"y":0.0029},{"s":"component-2","x":0.348,"y":0.0048},{"s":"component-2","x":0.352,"y":0.0028},{"s":"component-2","x":0.356,"y":0.0047},{"s":"component-2","x":0.36,"y":0.0027},{"s":"component-2","x":0.364,"y":0.0048},{"s":"component-2","x":0.368,"y":0.0028},{"s":"component-2","x":0.372,"y":0.0049},{"s":"component-2","x":0.376,"y":0.0028},{"s":"component-2","x":0.38,"y":0.005},{"s":"component-2","x":0.384,"y":0.0029},{"s":"component-2","x":0.388,"y":0.0052},{"s":"component-2","x":0.392,"y":0.003},{"s":"component-2","x":0.396,"y":0.0055},{"s":"component-2","x":0.4,"y":0.0042},
{"s":"component-3","x":0.015,"y":1.08},{"s":"component-3","x":0.02,"y":1.04},{"s":"component-3","x":0.03,"y":0.92},{"s":"component-3","x":0.04,"y":0.77},{"s":"component-3","x":0.05,"y":0.62},{"s":"component-3","x":0.06,"y":0.49},{"s":"component-3","x":0.07,"y":0.37},{"s":"component-3","x":0.08,"y":0.28},{"s":"component-3","x":0.09,"y":0.21},{"s":"component-3","x":0.1,"y":0.16},{"s":"component-3","x":0.11,"y":0.12},{"s":"component-3","x":0.12,"y":0.095},{"s":"component-3","x":0.13,"y":0.072},{"s":"component-3","x":0.14,"y":0.057},{"s":"component-3","x":0.15,"y":0.046},
{"s":"component-3","x":0.156,"y":0.042},{"s":"component-3","x":0.16,"y":0.036},{"s":"component-3","x":0.164,"y":0.037},{"s":"component-3","x":0.168,"y":0.031},{"s":"component-3","x":0.172,"y":0.034},{"s":"component-3","x":0.176,"y":0.027},{"s":"component-3","x":0.18,"y":0.03},{"s":"component-3","x":0.184,"y":0.024},{"s":"component-3","x":0.188,"y":0.027},{"s":"component-3","x":0.192,"y":0.021},{"s":"component-3","x":0.196,"y":0.024},{"s":"component-3","x":0.2,"y":0.018},{"s":"component-3","x":0.204,"y":0.022},{"s":"component-3","x":0.208,"y":0.016},{"s":"component-3","x":0.212,"y":0.02},{"s":"component-3","x":0.216,"y":0.0135},{"s":"component-3","x":0.22,"y":0.0185},{"s":"component-3","x":0.224,"y":0.012},{"s":"component-3","x":0.228,"y":0.018},{"s":"component-3","x":0.232,"y":0.0115},{"s":"component-3","x":0.236,"y":0.017},{"s":"component-3","x":0.24,"y":0.0105},{"s":"component-3","x":0.244,"y":0.016},{"s":"component-3","x":0.248,"y":0.0095},{"s":"component-3","x":0.252,"y":0.0135},{"s":"component-3","x":0.256,"y":0.0085},{"s":"component-3","x":0.26,"y":0.0125},{"s":"component-3","x":0.264,"y":0.0065},{"s":"component-3","x":0.268,"y":0.012},{"s":"component-3","x":0.272,"y":0.0055},{"s":"component-3","x":0.276,"y":0.0105},{"s":"component-3","x":0.28,"y":0.0062},{"s":"component-3","x":0.284,"y":0.011},{"s":"component-3","x":0.288,"y":0.0048},{"s":"component-3","x":0.292,"y":0.0095},{"s":"component-3","x":0.296,"y":0.0045},{"s":"component-3","x":0.3,"y":0.0105},{"s":"component-3","x":0.304,"y":0.0025},{"s":"component-3","x":0.306,"y":0.00005},{"s":"component-3","x":0.308,"y":0.006},{"s":"component-3","x":0.312,"y":0.012},{"s":"component-3","x":0.316,"y":0.0035},{"s":"component-3","x":0.32,"y":0.009},{"s":"component-3","x":0.324,"y":0.0032},{"s":"component-3","x":0.328,"y":0.0085},{"s":"component-3","x":0.332,"y":0.003},{"s":"component-3","x":0.336,"y":0.0088},{"s":"component-3","x":0.34,"y":0.0035},{"s":"component-3","x":0.344,"y":0.0085},{"s":"component-3","x":0.348,"y":0.003},{"s":"component-3","x":0.352,"y":0.0082},{"s":"component-3","x":0.356,"y":0.0015},{"s":"component-3","x":0.358,"y":0.00005},{"s":"component-3","x":0.36,"y":0.0065},{"s":"component-3","x":0.364,"y":0.0028},{"s":"component-3","x":0.368,"y":0.0085},{"s":"component-3","x":0.372,"y":0.0032},{"s":"component-3","x":0.376,"y":0.009},{"s":"component-3","x":0.38,"y":0.0025},{"s":"component-3","x":0.383,"y":0.00028},{"s":"component-3","x":0.386,"y":0.0075},{"s":"component-3","x":0.39,"y":0.003},{"s":"component-3","x":0.394,"y":0.0085},{"s":"component-3","x":0.397,"y":0.0035},{"s":"component-3","x":0.4,"y":0.009}
],
"kratky": [
{"s":"component-1","x":0.43,"y":0.17},{"s":"component-1","x":0.5,"y":0.25},{"s":"component-1","x":0.6,"y":0.34},{"s":"component-1","x":0.7,"y":0.44},{"s":"component-1","x":0.8,"y":0.54},{"s":"component-1","x":0.9,"y":0.65},{"s":"component-1","x":1.0,"y":0.75},{"s":"component-1","x":1.1,"y":0.84},{"s":"component-1","x":1.2,"y":0.92},{"s":"component-1","x":1.3,"y":0.98},{"s":"component-1","x":1.4,"y":1.04},{"s":"component-1","x":1.5,"y":1.09},{"s":"component-1","x":1.6,"y":1.13},{"s":"component-1","x":1.7,"y":1.16},{"s":"component-1","x":1.8,"y":1.18},{"s":"component-1","x":1.9,"y":1.19},{"s":"component-1","x":2.0,"y":1.185},{"s":"component-1","x":2.1,"y":1.175},{"s":"component-1","x":2.2,"y":1.155},{"s":"component-1","x":2.3,"y":1.13},{"s":"component-1","x":2.4,"y":1.1},{"s":"component-1","x":2.5,"y":1.06},{"s":"component-1","x":2.6,"y":1.03},{"s":"component-1","x":2.7,"y":0.99},{"s":"component-1","x":2.8,"y":0.97},{"s":"component-1","x":2.9,"y":0.93},{"s":"component-1","x":3.0,"y":0.91},{"s":"component-1","x":3.1,"y":0.88},{"s":"component-1","x":3.2,"y":0.85},{"s":"component-1","x":3.3,"y":0.83},{"s":"component-1","x":3.4,"y":0.81},{"s":"component-1","x":3.5,"y":0.79},{"s":"component-1","x":3.6,"y":0.76},{"s":"component-1","x":3.7,"y":0.76},{"s":"component-1","x":3.8,"y":0.71},{"s":"component-1","x":3.9,"y":0.69},{"s":"component-1","x":4.0,"y":0.66},{"s":"component-1","x":4.1,"y":0.64},{"s":"component-1","x":4.2,"y":0.62},{"s":"component-1","x":4.35,"y":0.59},{"s":"component-1","x":4.5,"y":0.56},{"s":"component-1","x":4.65,"y":0.53},{"s":"component-1","x":4.8,"y":0.5},{"s":"component-1","x":4.95,"y":0.51},{"s":"component-1","x":5.05,"y":0.64},{"s":"component-1","x":5.1,"y":0.46},{"s":"component-1","x":5.25,"y":0.47},{"s":"component-1","x":5.4,"y":0.43},{"s":"component-1","x":5.55,"y":0.45},{"s":"component-1","x":5.7,"y":0.4},{"s":"component-1","x":5.85,"y":0.44},{"s":"component-1","x":6.0,"y":0.37},{"s":"component-1","x":6.15,"y":0.43},{"s":"component-1","x":6.3,"y":0.35},{"s":"component-1","x":6.45,"y":0.41},{"s":"component-1","x":6.6,"y":0.34},{"s":"component-1","x":6.75,"y":0.4},{"s":"component-1","x":6.9,"y":0.3},{"s":"component-1","x":7.05,"y":0.39},{"s":"component-1","x":7.2,"y":0.28},{"s":"component-1","x":7.35,"y":0.38},{"s":"component-1","x":7.5,"y":0.26},{"s":"component-1","x":7.65,"y":0.37},{"s":"component-1","x":7.8,"y":0.24},{"s":"component-1","x":7.95,"y":0.38},{"s":"component-1","x":8.1,"y":0.22},{"s":"component-1","x":8.25,"y":0.37},{"s":"component-1","x":8.4,"y":0.25},{"s":"component-1","x":8.55,"y":0.4},{"s":"component-1","x":8.7,"y":0.2},{"s":"component-1","x":8.85,"y":0.36},{"s":"component-1","x":9.0,"y":0.15},{"s":"component-1","x":9.15,"y":0.38},{"s":"component-1","x":9.3,"y":0.06},{"s":"component-1","x":9.45,"y":0.35},{"s":"component-1","x":9.6,"y":0.12},{"s":"component-1","x":9.75,"y":0.4},{"s":"component-1","x":9.9,"y":0.18},{"s":"component-1","x":10.05,"y":0.38},{"s":"component-1","x":10.2,"y":0.2},{"s":"component-1","x":10.35,"y":0.45},{"s":"component-1","x":10.5,"y":0.18},{"s":"component-1","x":10.65,"y":0.48},{"s":"component-1","x":10.8,"y":0.25},{"s":"component-1","x":10.95,"y":0.5},{"s":"component-1","x":11.05,"y":0.12},{"s":"component-1","x":11.15,"y":0.58},{"s":"component-1","x":11.2,"y":0.0},{"s":"component-1","x":11.3,"y":0.48},{"s":"component-1","x":11.38,"y":0.2},{"s":"component-1","x":11.48,"y":0.45},
{"s":"component-2","x":0.41,"y":0.15},{"s":"component-2","x":0.5,"y":0.25},{"s":"component-2","x":0.6,"y":0.34},{"s":"component-2","x":0.7,"y":0.44},{"s":"component-2","x":0.8,"y":0.54},{"s":"component-2","x":0.9,"y":0.65},{"s":"component-2","x":1.0,"y":0.75},{"s":"component-2","x":1.1,"y":0.84},{"s":"component-2","x":1.2,"y":0.92},{"s":"component-2","x":1.3,"y":0.98},{"s":"component-2","x":1.4,"y":1.04},{"s":"component-2","x":1.5,"y":1.09},{"s":"component-2","x":1.6,"y":1.13},{"s":"component-2","x":1.7,"y":1.16},{"s":"component-2","x":1.8,"y":1.175},{"s":"component-2","x":1.9,"y":1.185},{"s":"component-2","x":2.0,"y":1.18},{"s":"component-2","x":2.1,"y":1.165},{"s":"component-2","x":2.2,"y":1.14},{"s":"component-2","x":2.3,"y":1.11},{"s":"component-2","x":2.4,"y":1.08},{"s":"component-2","x":2.5,"y":1.05},{"s":"component-2","x":2.6,"y":1.01},{"s":"component-2","x":2.7,"y":0.98},{"s":"component-2","x":2.8,"y":0.95},{"s":"component-2","x":2.9,"y":0.91},{"s":"component-2","x":3.0,"y":0.89},{"s":"component-2","x":3.1,"y":0.86},{"s":"component-2","x":3.2,"y":0.88},{"s":"component-2","x":3.3,"y":0.81},{"s":"component-2","x":3.4,"y":0.78},{"s":"component-2","x":3.5,"y":0.76},{"s":"component-2","x":3.6,"y":0.73},{"s":"component-2","x":3.7,"y":0.7},{"s":"component-2","x":3.8,"y":0.66},{"s":"component-2","x":3.9,"y":0.64},{"s":"component-2","x":4.0,"y":0.6},{"s":"component-2","x":4.1,"y":0.58},{"s":"component-2","x":4.2,"y":0.56},{"s":"component-2","x":4.35,"y":0.53},{"s":"component-2","x":4.5,"y":0.5},{"s":"component-2","x":4.65,"y":0.49},{"s":"component-2","x":4.8,"y":0.47},{"s":"component-2","x":4.95,"y":0.45},{"s":"component-2","x":5.1,"y":0.46},{"s":"component-2","x":5.25,"y":0.42},{"s":"component-2","x":5.4,"y":0.44},{"s":"component-2","x":5.55,"y":0.4},{"s":"component-2","x":5.7,"y":0.43},{"s":"component-2","x":5.85,"y":0.38},{"s":"component-2","x":6.0,"y":0.42},{"s":"component-2","x":6.15,"y":0.36},{"s":"component-2","x":6.3,"y":0.42},{"s":"component-2","x":6.45,"y":0.34},{"s":"component-2","x":6.6,"y":0.48},{"s":"component-2","x":6.75,"y":0.33},{"s":"component-2","x":6.9,"y":0.39},{"s":"component-2","x":7.05,"y":0.3},{"s":"component-2","x":7.2,"y":0.37},{"s":"component-2","x":7.35,"y":0.27},{"s":"component-2","x":7.5,"y":0.35},{"s":"component-2","x":7.65,"y":0.24},{"s":"component-2","x":7.8,"y":0.36},{"s":"component-2","x":7.95,"y":0.26},{"s":"component-2","x":8.1,"y":0.34},{"s":"component-2","x":8.25,"y":0.22},{"s":"component-2","x":8.4,"y":0.38},{"s":"component-2","x":8.55,"y":0.18},{"s":"component-2","x":8.7,"y":0.4},{"s":"component-2","x":8.85,"y":0.2},{"s":"component-2","x":9.0,"y":0.35},{"s":"component-2","x":9.15,"y":0.17},{"s":"component-2","x":9.3,"y":0.38},{"s":"component-2","x":9.45,"y":0.15},{"s":"component-2","x":9.6,"y":0.36},{"s":"component-2","x":9.75,"y":0.2},{"s":"component-2","x":9.9,"y":0.4},{"s":"component-2","x":10.05,"y":0.22},{"s":"component-2","x":10.2,"y":0.5},{"s":"component-2","x":10.3,"y":0.24},{"s":"component-2","x":10.4,"y":0.45},{"s":"component-2","x":10.5,"y":0.28},{"s":"component-2","x":10.6,"y":0.55},{"s":"component-2","x":10.7,"y":0.3},{"s":"component-2","x":10.8,"y":0.5},{"s":"component-2","x":10.88,"y":0.42},
{"s":"component-3","x":0.38,"y":0.14},{"s":"component-3","x":0.5,"y":0.25},{"s":"component-3","x":0.6,"y":0.34},{"s":"component-3","x":0.7,"y":0.44},{"s":"component-3","x":0.8,"y":0.54},{"s":"component-3","x":0.9,"y":0.65},{"s":"component-3","x":1.0,"y":0.75},{"s":"component-3","x":1.1,"y":0.84},{"s":"component-3","x":1.2,"y":0.92},{"s":"component-3","x":1.3,"y":0.98},{"s":"component-3","x":1.4,"y":1.04},{"s":"component-3","x":1.5,"y":1.08},{"s":"component-3","x":1.6,"y":1.11},{"s":"component-3","x":1.7,"y":1.13},{"s":"component-3","x":1.8,"y":1.16},{"s":"component-3","x":1.9,"y":1.17},{"s":"component-3","x":2.0,"y":1.14},{"s":"component-3","x":2.1,"y":1.12},{"s":"component-3","x":2.2,"y":1.08},{"s":"component-3","x":2.3,"y":1.05},{"s":"component-3","x":2.4,"y":1.02},{"s":"component-3","x":2.5,"y":0.98},{"s":"component-3","x":2.6,"y":0.96},{"s":"component-3","x":2.7,"y":0.9},{"s":"component-3","x":2.8,"y":0.93},{"s":"component-3","x":2.9,"y":0.83},{"s":"component-3","x":3.0,"y":0.86},{"s":"component-3","x":3.1,"y":0.76},{"s":"component-3","x":3.2,"y":0.8},{"s":"component-3","x":3.3,"y":0.72},{"s":"component-3","x":3.4,"y":0.74},{"s":"component-3","x":3.5,"y":0.64},{"s":"component-3","x":3.6,"y":0.68},{"s":"component-3","x":3.7,"y":0.58},{"s":"component-3","x":3.8,"y":0.63},{"s":"component-3","x":3.9,"y":0.52},{"s":"component-3","x":4.0,"y":0.58},{"s":"component-3","x":4.1,"y":0.46},{"s":"component-3","x":4.2,"y":0.55},{"s":"component-3","x":4.35,"y":0.4},{"s":"component-3","x":4.5,"y":0.52},{"s":"component-3","x":4.65,"y":0.32},{"s":"component-3","x":4.8,"y":0.5},{"s":"component-3","x":4.95,"y":0.3},{"s":"component-3","x":5.1,"y":0.48},{"s":"component-3","x":5.25,"y":0.33},{"s":"component-3","x":5.4,"y":0.55},{"s":"component-3","x":5.55,"y":0.28},{"s":"component-3","x":5.7,"y":0.47},{"s":"component-3","x":5.85,"y":0.25},{"s":"component-3","x":5.95,"y":0.7},{"s":"component-3","x":6.05,"y":0.3},{"s":"component-3","x":6.2,"y":0.5},{"s":"component-3","x":6.35,"y":0.25},{"s":"component-3","x":6.5,"y":0.45},{"s":"component-3","x":6.65,"y":0.28},{"s":"component-3","x":6.8,"y":0.55},{"s":"component-3","x":6.95,"y":0.18},{"s":"component-3","x":7.1,"y":0.45},{"s":"component-3","x":7.25,"y":0.2},{"s":"component-3","x":7.4,"y":0.62},{"s":"component-3","x":7.5,"y":0.15},{"s":"component-3","x":7.6,"y":0.55},{"s":"component-3","x":7.7,"y":-0.05},{"s":"component-3","x":7.8,"y":0.4},{"s":"component-3","x":7.95,"y":0.01},{"s":"component-3","x":8.05,"y":0.6},{"s":"component-3","x":8.2,"y":0.15},{"s":"component-3","x":8.35,"y":0.55},{"s":"component-3","x":8.5,"y":0.1},{"s":"component-3","x":8.65,"y":0.6},{"s":"component-3","x":8.8,"y":0.08},{"s":"component-3","x":8.9,"y":0.65},{"s":"component-3","x":9.0,"y":-0.02},{"s":"component-3","x":9.1,"y":0.5},{"s":"component-3","x":9.2,"y":0.12},{"s":"component-3","x":9.3,"y":0.72},{"s":"component-3","x":9.4,"y":0.1},{"s":"component-3","x":9.5,"y":0.75},{"s":"component-3","x":9.6,"y":0.05},{"s":"component-3","x":9.7,"y":0.7},{"s":"component-3","x":9.8,"y":0.15},{"s":"component-3","x":9.9,"y":0.85},{"s":"component-3","x":9.95,"y":0.2},{"s":"component-3","x":10.02,"y":0.88},{"s":"component-3","x":10.08,"y":0.3}
]
},
"concat": [
  {"width": 70.8, "height": 289, "view": {"stroke": null}, "data": {"values": [{"t": "UV"}]}, "mark": {"type": "text", "fontSize": 27.8, "color": "black"}, "encoding": {"text": {"field": "t", "type": "nominal"}, "x": {"datum": 0.82, "type": "quantitative", "scale": {"domain": [0, 1]}, "axis": null}}},
  {"width": 400, "height": 289, "title": {"text": "UV Elution Curves"}, "data": {"name": "uvel"}, "mark": {"type": "line", "clip": true},
   "encoding": {
    "x": {"field": "x", "type": "quantitative", "scale": {"domain": [-24, 466], "nice": false, "zero": false}, "axis": {"values": [0, 100, 200, 300, 400], "title": "Frames"}},
    "y": {"field": "y", "type": "quantitative", "scale": {"domain": [-0.0255, 0.4168], "nice": false, "zero": false}, "axis": {"values": [0, 0.05, 0.1, 0.15, 0.2, 0.25, 0.3, 0.35, 0.4], "format": ".2f", "title": "Absorbance"}},
    "color": {"field": "s", "type": "nominal", "scale": {"domain": ["data", "component-1", "component-2", "component-3", "component total"], "range": ["#808080", "#1f77b4", "#ff7f0e", "#2ca02c", "#ff0000"]}, "legend": {"title": null, "orient": "top-right", "symbolType": "M-2.8,0H2.8", "symbolSize": 100}},
    "strokeDash": {"field": "s", "type": "nominal", "scale": {"domain": ["data", "component-1", "component-2", "component-3", "component total"], "range": [[1, 0], [1.5, 2.5], [1.5, 2.5], [1.5, 2.5], [1, 0]]}},
    "opacity": {"field": "s", "type": "nominal", "scale": {"type": "ordinal", "domain": ["data", "component-1", "component-2", "component-3", "component total"], "range": [0.5, 1, 1, 1, 0.35]}},
    "strokeWidth": {"field": "s", "type": "nominal", "scale": {"type": "ordinal", "domain": ["data", "component-1", "component-2", "component-3", "component total"], "range": [2, 1.5, 1.5, 1.5, 2]}}
   }},
  {"width": 400, "height": 289, "title": {"text": "UV Absorbance Curves"}, "data": {"name": "uvabs"}, "mark": {"type": "line", "clip": true, "strokeWidth": 1.5},
   "encoding": {
    "x": {"field": "x", "type": "quantitative", "scale": {"domain": [240, 460], "nice": false, "zero": false}, "axis": {"values": [250, 275, 300, 325, 350, 375, 400, 425, 450], "title": "Wavelength [nm]"}},
    "y": {"field": "y", "type": "quantitative", "scale": {"domain": [-0.0565, 1.164], "nice": false, "zero": false}, "axis": {"values": [0, 0.2, 0.4, 0.6, 0.8, 1.0], "format": ".1f", "title": "Absorbance"}},
    "color": {"field": "s", "type": "nominal", "scale": {"domain": ["component-1", "component-2", "component-3"], "range": ["#1f77b4", "#ff7f0e", "#2ca02c"]}, "legend": {"title": null, "orient": "top-right", "symbolType": "M-2.8,0H2.8", "symbolSize": 100}},
    "strokeDash": {"field": "s", "type": "nominal", "scale": {"domain": ["component-1", "component-2", "component-3"], "range": [[1.5, 2.5], [1.5, 2.5], [1.5, 2.5]]}}
   }},
  {"width": 400, "height": 289, "title": {"text": "XR Guinier Plot"},
   "layer": [
    {"data": {"name": "guinpts"}, "mark": {"type": "line", "clip": true, "color": "#808080", "opacity": 0.6, "strokeDash": [1.2, 3], "strokeWidth": 1.2},
     "encoding": {
      "x": {"field": "x", "type": "quantitative", "scale": {"domain": [0.000057, 0.003423], "nice": false, "zero": false}, "axis": {"values": [0.0005, 0.001, 0.0015, 0.002, 0.0025, 0.003], "format": ".4f", "title": "Q²", "titleFontStyle": "italic"}},
      "y": {"field": "y", "type": "quantitative", "scale": {"domain": [-0.7446, 0.0003], "nice": false, "zero": false}, "axis": {"values": [-0.7, -0.6, -0.5, -0.4, -0.3, -0.2, -0.1], "format": ".1f", "title": "log(I) − I₀"}},
      "detail": {"field": "s", "type": "nominal"}
     }},
    {"data": {"name": "guinlines"}, "mark": {"type": "line", "clip": true, "strokeWidth": 1.5},
     "encoding": {
      "x": {"field": "x", "type": "quantitative"},
      "y": {"field": "y", "type": "quantitative"},
      "color": {"field": "s", "type": "nominal", "scale": {"domain": ["component-1, Rg = 28.7", "component-2, Rg = 27.2", "component-3, Rg = 25.2"], "range": ["#1f77b4", "#ff7f0e", "#2ca02c"]}, "legend": {"title": null, "orient": "top-right", "symbolType": "M-2.8,0H2.8", "symbolSize": 100, "symbolStrokeWidth": 2}}
     }}
   ]},
  {"width": 70.8, "height": 289, "view": {"stroke": null}, "data": {"values": [{"t": "XR"}]}, "mark": {"type": "text", "fontSize": 27.8, "color": "black"}, "encoding": {"text": {"field": "t", "type": "nominal"}, "x": {"datum": 0.82, "type": "quantitative", "scale": {"domain": [0, 1]}, "axis": null}}},
  {"width": 400, "height": 289, "title": {"text": "XR Elution Curves"},
   "encoding": {
    "x": {"field": "x", "type": "quantitative", "scale": {"domain": [-5.5, 216.5], "nice": false, "zero": false}, "axis": {"values": [0, 25, 50, 75, 100, 125, 150, 175, 200], "title": "Frames"}},
    "y": {"field": "y", "type": "quantitative", "scale": {"domain": [-0.00567, 0.0645], "nice": false, "zero": false}, "axis": {"values": [0, 0.01, 0.02, 0.03, 0.04, 0.05, 0.06], "format": ".2f", "title": "Scattering Intensity"}},
    "color": {"field": "s", "type": "nominal", "scale": {"domain": ["data", "recognition (scaled)", "component-1", "component-2", "component-3", "component total"], "range": ["#808080", "#0000ff", "#1f77b4", "#ff7f0e", "#2ca02c", "#ff0000"]}, "legend": {"title": null, "orient": "top-right", "symbolType": "M-2.8,0H2.8", "symbolSize": 100}},
    "strokeDash": {"field": "s", "type": "nominal", "scale": {"domain": ["data", "recognition (scaled)", "component-1", "component-2", "component-3", "component total"], "range": [[1, 0], [1, 0], [1.5, 2.5], [1.5, 2.5], [1.5, 2.5], [1, 0]]}},
    "opacity": {"field": "s", "type": "nominal", "scale": {"type": "ordinal", "domain": ["data", "recognition (scaled)", "component-1", "component-2", "component-3", "component total"], "range": [0.5, 0.3, 1, 1, 1, 0.35]}},
    "strokeWidth": {"field": "s", "type": "nominal", "scale": {"type": "ordinal", "domain": ["data", "recognition (scaled)", "component-1", "component-2", "component-3", "component total"], "range": [2, 1, 1.5, 1.5, 1.5, 2]}}
   },
   "layer": [
    {"data": {"name": "xrnoisy"}, "transform": [{"flatten": ["s"]}], "mark": {"type": "line", "clip": true}},
    {"data": {"name": "xrcomp"}, "mark": {"type": "line", "clip": true}}
   ]},
  {"width": 400, "height": 289, "title": {"text": "XR Scattering Curves"}, "data": {"name": "scat"}, "mark": {"type": "line", "clip": true, "strokeWidth": 1.5},
   "encoding": {
    "x": {"field": "x", "type": "quantitative", "scale": {"domain": [-0.004, 0.419], "nice": false, "zero": false}, "axis": {"values": [0, 0.05, 0.1, 0.15, 0.2, 0.25, 0.3, 0.35, 0.4], "format": ".2f", "title": "Q [Å⁻¹]"}},
    "y": {"field": "y", "type": "quantitative", "scale": {"type": "log", "domain": [0.000109, 1.7], "nice": false}, "axis": {"values": [0.001, 0.01, 0.1, 1], "labelExpr": "datum.value > 0.5 ? '10⁰' : datum.value > 0.05 ? '10⁻¹' : datum.value > 0.005 ? '10⁻²' : '10⁻³'", "title": "log₁₀(I)"}},
    "color": {"field": "s", "type": "nominal", "scale": {"domain": ["component-1", "component-2", "component-3"], "range": ["#1f77b4", "#ff7f0e", "#2ca02c"]}, "legend": {"title": null, "orient": "top-right", "symbolType": "M-2.8,0H2.8", "symbolSize": 100}},
    "strokeDash": {"field": "s", "type": "nominal", "scale": {"domain": ["component-1", "component-2", "component-3"], "range": [[1.5, 2.5], [1.5, 2.5], [1.5, 2.5]]}}
   }},
  {"width": 400, "height": 289, "title": {"text": "XR Kratky Plot"},
   "layer": [
    {"data": {"name": "kratky"}, "mark": {"type": "line", "clip": true, "strokeWidth": 1.5},
     "encoding": {
      "x": {"field": "x", "type": "quantitative", "scale": {"domain": [-0.18, 12.06], "nice": false, "zero": false}, "axis": {"values": [0, 2, 4, 6, 8, 10, 12], "format": "d", "title": "QRg", "titleFontStyle": "italic"}},
      "y": {"field": "y", "type": "quantitative", "scale": {"domain": [-0.1214, 1.264], "nice": false, "zero": false}, "axis": {"values": [0, 0.2, 0.4, 0.6, 0.8, 1.0, 1.2], "format": ".1f", "title": "(QRg)² × I(Q)/I₀"}},
      "color": {"field": "s", "type": "nominal", "scale": {"domain": ["component-1", "component-2", "component-3"], "range": ["#1f77b4", "#ff7f0e", "#2ca02c"]}, "legend": {"title": null, "orient": "none", "legendX": 128, "legendY": 6, "symbolType": "M-2.8,0H2.8", "symbolSize": 100}},
      "strokeDash": {"field": "s", "type": "nominal", "scale": {"domain": ["component-1", "component-2", "component-3"], "range": [[1.5, 2.5], [1.5, 2.5], [1.5, 2.5]]}}
     }},
    {"data": {"values": [{}]}, "mark": {"type": "rule", "color": "#ff0000", "opacity": 0.5, "strokeWidth": 1.5}, "encoding": {"y": {"datum": 0, "type": "quantitative"}}},
    {"data": {"values": [{}]}, "mark": {"type": "rule", "color": "#808080", "strokeDash": [1.5, 2.5], "strokeWidth": 1.5}, "encoding": {"x": {"datum": 1.732, "type": "quantitative"}}},
    {"data": {"values": [{}]}, "mark": {"type": "rule", "color": "#808080", "strokeDash": [1.5, 2.5], "strokeWidth": 1.5}, "encoding": {"y": {"datum": 1.1036, "type": "quantitative"}}},
    {"data": {"values": [{"t": "3/e"}]}, "mark": {"type": "text", "align": "right", "baseline": "alphabetic", "fontStyle": "italic", "fontSize": 13.9, "color": "black"}, "encoding": {"x": {"datum": 12.06, "type": "quantitative"}, "y": {"datum": 1.122, "type": "quantitative"}, "text": {"field": "t", "type": "nominal"}}},
    {"data": {"values": [{"t": "√3"}]}, "mark": {"type": "text", "align": "right", "baseline": "alphabetic", "fontSize": 13.9, "color": "black"}, "encoding": {"x": {"datum": 1.7, "type": "quantitative"}, "y": {"datum": -0.106, "type": "quantitative"}, "text": {"field": "t", "type": "nominal"}}}
   ]}
]
}
